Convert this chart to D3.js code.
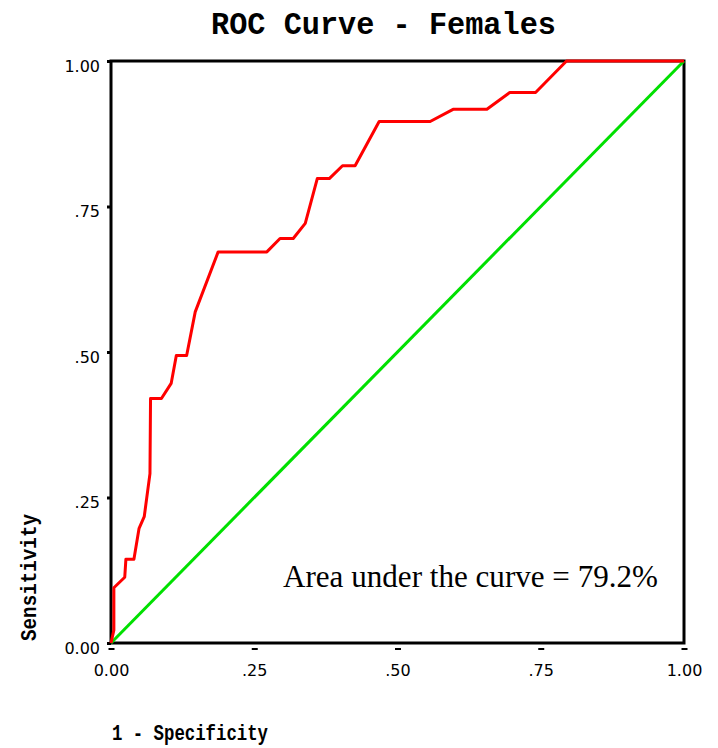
<!DOCTYPE html>
<html>
<head>
<meta charset="utf-8">
<script src="https://cdn.jsdelivr.net/npm/d3@7"></script>
<style>
  body { margin: 0; background: #fff; }
  .tick text { font-family: "DejaVu Sans", sans-serif; font-size: 16px; fill: #000; }
  .title { font-family: "Liberation Mono", monospace; font-weight: bold; font-size: 32px; }
  .label { font-family: "Liberation Mono", monospace; font-weight: bold; font-size: 22px; }
  .auc { font-family: "Liberation Serif", serif; font-size: 32px; }
</style>
</head>
<body>
<div id="container"></div>
<script>
// ROC curve points (1 - specificity, sensitivity)
const fpr = [0, 0.005, 0.005, 0.024, 0.026, 0.040, 0.049, 0.058, 0.068, 0.069, 0.088, 0.105,
  0.114, 0.132, 0.147, 0.187, 0.272, 0.295, 0.318, 0.339, 0.360, 0.381, 0.404, 0.426,
  0.468, 0.557, 0.597, 0.656, 0.696, 0.741, 0.795, 1];
const tpr = [0, 0.022, 0.095, 0.113, 0.144, 0.144, 0.197, 0.217, 0.291, 0.420, 0.420, 0.446,
  0.494, 0.494, 0.569, 0.672, 0.672, 0.695, 0.695, 0.721, 0.798, 0.798, 0.820, 0.820,
  0.896, 0.896, 0.917, 0.917, 0.946, 0.946, 1, 1];
// reference (chance) line
const refX = [0, 1];
const refY = [0, 1];
const tickValues = [0, 0.25, 0.5, 0.75, 1];
const tickLabels = ['0.00', '.25', '.50', '.75', '1.00'];

const svg = d3.select('#container').append('svg')
  .attr('width', 718)
  .attr('height', 748);

const plotLeft = 111, plotRight = 684, plotTop = 61, plotBottom = 643;

const xScale = d3.scaleLinear().domain([0, 1]).range([plotLeft, plotRight]);
const yScale = d3.scaleLinear().domain([0, 1]).range([plotBottom, plotTop]);

// x axis: small detached dashes below the frame
const xAxis = svg.append('g')
  .attr('transform', `translate(0,${plotBottom + 6})`)
  .call(d3.axisBottom(xScale)
    .tickValues(tickValues)
    .tickSize(0)
    .tickPadding(16)
    .tickFormat((d, i) => tickLabels[i]));
xAxis.select('.domain').remove();
xAxis.selectAll('.tick').append('line')
  .attr('x1', -3).attr('x2', 3)
  .attr('stroke', '#000').attr('stroke-width', 2);

// y axis
const yAxis = svg.append('g')
  .attr('transform', `translate(${plotLeft},0)`)
  .call(d3.axisLeft(yScale)
    .tickValues(tickValues)
    .tickSize(4)
    .tickPadding(7)
    .tickFormat((d, i) => tickLabels[i]));
yAxis.select('.domain').remove();
yAxis.selectAll('.tick line').attr('stroke', '#000').attr('stroke-width', 3);
yAxis.selectAll('.tick text').attr('dy', '0.65em');

// frame
svg.append('rect')
  .attr('x', plotLeft).attr('y', plotTop)
  .attr('width', plotRight - plotLeft).attr('height', plotBottom - plotTop)
  .attr('fill', 'none').attr('stroke', '#000').attr('stroke-width', 3);

const line = d3.line()
  .x((d) => xScale(d[0]))
  .y((d) => yScale(d[1]));

svg.append('path')
  .datum(refX.map((x, i) => [x, refY[i]]))
  .attr('d', line)
  .attr('fill', 'none')
  .attr('stroke', '#00e000')
  .attr('stroke-width', 3);

svg.append('path')
  .datum(fpr.map((x, i) => [x, tpr[i]]))
  .attr('d', line)
  .attr('fill', 'none')
  .attr('stroke', '#ff0000')
  .attr('stroke-width', 3)
  .attr('stroke-linejoin', 'round');

svg.append('text')
  .attr('class', 'title')
  .attr('x', 211)
  .attr('y', 34)
  .attr('textLength', 345)
  .attr('lengthAdjust', 'spacingAndGlyphs')
  .text('ROC Curve - Females');

svg.append('text')
  .attr('class', 'label')
  .attr('transform', 'translate(36,641) rotate(-90)')
  .attr('textLength', 127)
  .attr('lengthAdjust', 'spacingAndGlyphs')
  .text('Sensitivity');

svg.append('text')
  .attr('class', 'label')
  .attr('x', 112)
  .attr('y', 740)
  .attr('textLength', 156)
  .attr('lengthAdjust', 'spacingAndGlyphs')
  .text('1 - Specificity');

svg.append('text')
  .attr('class', 'auc')
  .attr('x', 283)
  .attr('y', 587)
  .attr('textLength', 375)
  .attr('lengthAdjust', 'spacingAndGlyphs')
  .text('Area under the curve = 79.2%');
</script>
</body>
</html>
